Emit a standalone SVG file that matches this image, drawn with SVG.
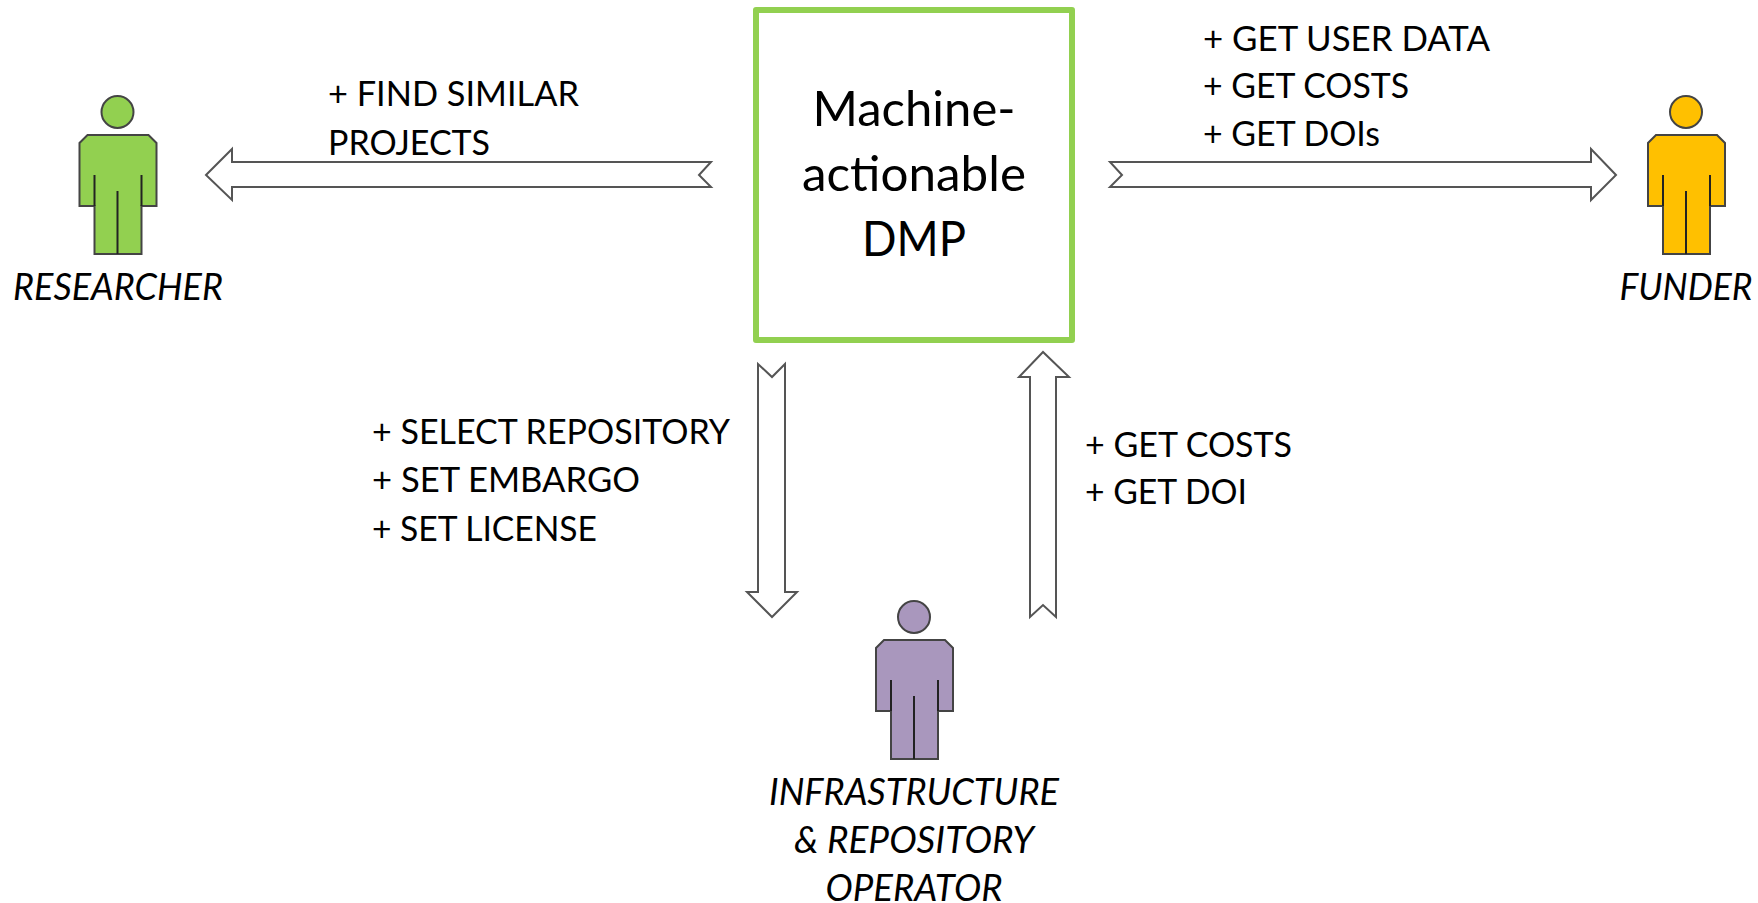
<svg xmlns="http://www.w3.org/2000/svg" width="1758" height="903" viewBox="0 0 1758 903">
<style>
text{font-family:Lato,"Liberation Sans",sans-serif;fill:#000}
.l{font-size:34px}
.r{font-size:36px;font-style:italic;text-anchor:middle}
.c{font-size:48px;text-anchor:middle}
.ar{fill:#fff;stroke:#555;stroke-width:2;stroke-linejoin:miter}
.b{stroke:#444;stroke-width:2}
.ln{fill:none;stroke:#222;stroke-width:2}
</style>
<defs>
<g id="person">
<circle class="b" cx="0" cy="0" r="16"/>
<path class="b" d="M-30 23H31L39 31V94H24V142H-23V94H-38V31Z"/>
<path class="ln" d="M-23 63V94M24 63V94M0 79V142"/>
</g>
</defs>
<rect width="1758" height="903" fill="#fff"/>
<g id="connectors">
<path class="ar" d="M206 175L232 149V162H711L699 175L711 187H232V200Z"/>
<path class="ar" d="M1616 175L1591 149V162H1110L1122 175L1110 187H1591V200Z"/>
<path class="ar" d="M772 617L747 592H758V364L772 377L785 364V592H797Z"/>
<path class="ar" d="M1043 352L1019 377H1030V617L1043 605L1056 617V377H1069Z"/>
</g>
<g id="dmp">
<rect x="756" y="10" width="316" height="330" fill="#fff" stroke="#92d050" stroke-width="6" stroke-linejoin="round"/>
<text class="c" x="914" y="126" textLength="203" lengthAdjust="spacingAndGlyphs">Machine-</text>
<text class="c" x="914" y="191" textLength="224" lengthAdjust="spacingAndGlyphs">actionable</text>
<text class="c" x="914" y="256" textLength="104" lengthAdjust="spacingAndGlyphs">DMP</text>
</g>
<g id="researcher">
<use href="#person" x="117.500" y="112" fill="#92d050"/>
<text class="r" x="118" y="300" textLength="210" lengthAdjust="spacingAndGlyphs">RESEARCHER</text>
</g>
<g id="funder">
<use href="#person" x="1686" y="112" fill="#ffc000"/>
<text class="r" x="1686" y="300" textLength="133" lengthAdjust="spacingAndGlyphs">FUNDER</text>
</g>
<g id="operator">
<use href="#person" x="914" y="617" fill="#a997bd"/>
<text class="r" x="914" y="805" textLength="290" lengthAdjust="spacingAndGlyphs">INFRASTRUCTURE</text>
<text class="r" x="914" y="853" textLength="240" lengthAdjust="spacingAndGlyphs">&amp; REPOSITORY</text>
<text class="r" x="914" y="901" textLength="177" lengthAdjust="spacingAndGlyphs">OPERATOR</text>
</g>
<g id="labels">
<text class="l" x="328" y="106" textLength="251" lengthAdjust="spacingAndGlyphs">+ FIND SIMILAR</text>
<text class="l" x="328" y="155" textLength="162" lengthAdjust="spacingAndGlyphs">PROJECTS</text>
<text class="l" x="1203" y="51" textLength="287" lengthAdjust="spacingAndGlyphs">+ GET USER DATA</text>
<text class="l" x="1203" y="98" textLength="206" lengthAdjust="spacingAndGlyphs">+ GET COSTS</text>
<text class="l" x="1203" y="146" textLength="177" lengthAdjust="spacingAndGlyphs">+ GET DOIs</text>
<text class="l" x="372" y="444" textLength="358" lengthAdjust="spacingAndGlyphs">+ SELECT REPOSITORY</text>
<text class="l" x="372" y="492" textLength="268" lengthAdjust="spacingAndGlyphs">+ SET EMBARGO</text>
<text class="l" x="372" y="541" textLength="225" lengthAdjust="spacingAndGlyphs">+ SET LICENSE</text>
<text class="l" x="1085" y="457" textLength="207" lengthAdjust="spacingAndGlyphs">+ GET COSTS</text>
<text class="l" x="1085" y="504" textLength="162" lengthAdjust="spacingAndGlyphs">+ GET DOI</text>
</g>
</svg>
